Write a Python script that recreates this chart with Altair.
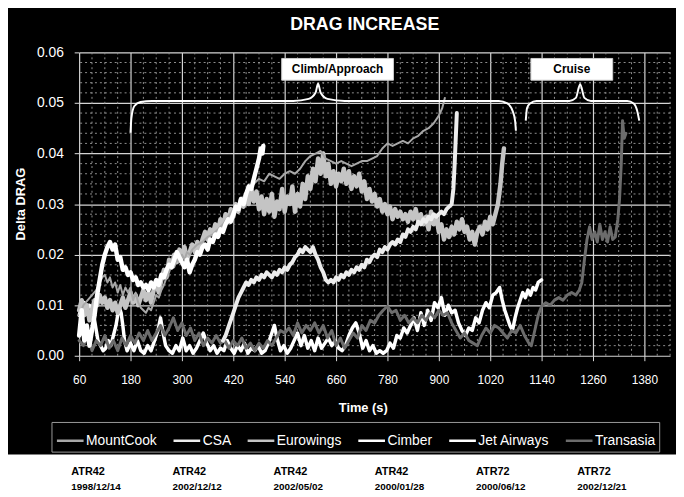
import altair as alt
import pandas as pd

# ---------------- data ----------------
series_names = ["MountCook", "CSA", "Eurowings", "Cimber", "Jet Airways", "Transasia"]
series_colors = ["#a8a8a8", "#ececec", "#c4c4c4", "#ffffff", "#ffffff", "#6c6c6c"]
series_widths = [2.0, 4.0, 4.5, 3.5, 4.5, 3.0]

# thin gray line (Climb up to ~0.05)
mountcook = [(60,.008),(70,.010),(80,.011),(90,.012),(100,.013),(108,.0145),(114,.0155),(120,.016),(126,.0145),
    (132,.0155),(138,.0135),(144,.0145),(150,.0125),(156,.014),(162,.012),(168,.0135),(174,.0125),(180,.0135),
    (186,.011),(192,.0125),(198,.0105),(204,.0095),(210,.009),(216,.0085),(222,.0095),(228,.009),(234,.0105),
    (240,.012),(246,.0115),(252,.013),(258,.014),(264,.0155),(270,.0165),(276,.018),(282,.0175),(288,.019),
    (294,.0185),(300,.020),(306,.019),(312,.0205),(318,.020),(324,.021),(336,.022),(348,.0225),(360,.0235),
    (372,.024),(384,.025),(396,.026),(408,.0275),(420,.029),(432,.030),(444,.0315),(456,.033),(468,.034),
    (480,.035),(492,.0345),(504,.036),(516,.0355),(528,.035),(540,.036),(552,.0365),(564,.036),(576,.037),
    (588,.0385),(600,.0395),(612,.040),(624,.0405),(636,.039),(648,.0385),(660,.038),(672,.0385),(684,.038),
    (696,.0375),(708,.038),(720,.0385),(732,.0385),(744,.039),(756,.0395),(768,.041),(780,.042),(792,.0415),
    (804,.042),(816,.0425),(828,.042),(840,.043),(852,.0435),(864,.0445),(876,.045),(888,.046),(900,.0475),
    (908,.049),(914,.051)]

# very light line rising from 400 s, spike at ~940 s
csa = [(396,.003),(402,.004),(408,.0055),(414,.007),(420,.0085),(426,.010),(432,.0115),(438,.0125),(444,.0135),
    (450,.0145),(456,.014),(462,.015),(468,.0145),(474,.0155),(480,.015),(486,.016),(492,.0155),(498,.0165),
    (504,.016),(510,.0155),(516,.0165),(522,.016),(528,.017),(534,.0165),(540,.0175),(546,.017),(552,.018),
    (558,.0185),(564,.0195),(570,.020),(576,.021),(582,.0205),(588,.0215),(594,.021),(600,.0205),(606,.0215),
    (612,.020),(618,.019),(624,.0175),(630,.0165),(636,.015),(642,.0145),(648,.015),(654,.0145),(660,.0155),
    (666,.015),(672,.016),(678,.0155),(684,.0165),(690,.016),(696,.017),(702,.0165),(708,.0175),(714,.017),
    (720,.018),(726,.0175),(732,.019),(738,.0185),(744,.0195),(750,.020),(756,.0195),(762,.021),(768,.0205),
    (774,.0215),(780,.021),(786,.022),(792,.0225),(798,.022),(804,.023),(810,.0225),(816,.024),(822,.0235),
    (828,.025),(834,.0245),(840,.0255),(846,.025),(852,.0265),(858,.026),(864,.027),(870,.0265),(876,.0275),
    (882,.027),(888,.028),(894,.0275),(900,.028),(906,.0285),(912,.028),(918,.029),(924,.0295),(930,.030),
    (934,.033),(937,.038),(940,.044),(942,.048)]

# light gray noisy band, spike at ~1050 s
eurowings = [(60,.009),(66,.011),(72,.008),(78,.010),(84,.007),(90,.009),(96,.011),(102,.010),(108,.012),
    (114,.0105),(120,.0115),(126,.0095),(132,.011),(138,.009),(144,.0105),(150,.0085),(156,.010),(162,.0115),
    (168,.0095),(174,.011),(180,.0125),(186,.0105),(192,.012),(198,.010),(204,.0115),(210,.013),(216,.011),
    (222,.0125),(228,.0105),(234,.013),(240,.0145),(246,.0125),(252,.015),(258,.017),(264,.0155),(270,.019),
    (276,.0175),(282,.020),(288,.0185),(294,.021),(300,.0195),(306,.0215),(312,.019),(318,.0205),(324,.022),
    (330,.0205),(336,.0225),(342,.021),(348,.023),(354,.0245),(360,.023),(366,.025),(372,.024),(378,.026),
    (384,.0245),(390,.027),(396,.0255),(402,.028),(408,.0265),(414,.029),(420,.0275),(426,.030),(432,.0285),
    (438,.031),(444,.0295),(450,.032),(456,.030),(462,.033),(468,.0305),(474,.0325),(480,.029),(486,.0315),
    (492,.028),(498,.031),(504,.0285),(510,.032),(516,.0275),(522,.0305),(528,.029),(534,.033),(540,.0285),
    (546,.0315),(552,.030),(558,.0335),(564,.0285),(570,.032),(576,.0295),(582,.034),(588,.031),(594,.0355),
    (600,.033),(606,.037),(612,.0345),(618,.039),(624,.036),(630,.040),(636,.0355),(642,.038),(648,.034),
    (654,.0365),(660,.0335),(666,.036),(672,.0345),(678,.037),(684,.034),(690,.0365),(696,.033),(702,.0355),
    (708,.0335),(714,.036),(720,.0325),(726,.0345),(732,.031),(738,.033),(744,.0305),(750,.032),(756,.0295),
    (762,.031),(768,.0285),(774,.030),(780,.028),(786,.0295),(792,.027),(798,.029),(804,.0275),(810,.0285),
    (816,.027),(822,.028),(828,.0265),(834,.0285),(840,.027),(846,.029),(852,.0265),(858,.028),(864,.026),
    (870,.0275),(876,.025),(882,.0285),(888,.026),(894,.0275),(900,.0245),(906,.026),(912,.023),(918,.025),
    (924,.0235),(930,.0255),(936,.024),(942,.0265),(948,.025),(954,.027),(960,.0245),(966,.0255),(972,.023),
    (978,.0245),(984,.022),(990,.0245),(996,.0255),(1002,.024),(1008,.0265),(1014,.025),(1020,.0275),
    (1026,.026),(1032,.028),(1038,.030),(1044,.034),(1048,.038),(1052,.041)]

# white line near the bottom, up to 1140 s
cimber = [(60,.008),(66,.010),(72,.0105),(78,.009),(84,.010),(90,.0095),(96,.007),(100,.005),(104,.003),
    (110,.002),(116,.001),(122,.0015),(128,.003),(134,.002),(140,.004),(146,.006),(150,.008),(154,.0095),
    (158,.0085),(162,.006),(166,.003),(172,.001),(180,.0025),(188,.001),(196,.003),(204,.001),(212,.0005),
    (220,.002),(228,.001),(236,.003),(244,.005),(250,.0075),(256,.0045),(262,.002),(270,.001),(278,.0005),
    (286,.002),(294,.001),(302,.0035),(310,.001),(318,.002),(326,.0005),(334,.0015),(342,.003),(350,.0045),
    (358,.0025),(366,.001),(374,.002),(382,.0005),(390,.0015),(398,.001),(406,.003),(414,.0015),(422,.0005),
    (430,.002),(438,.001),(446,.0025),(454,.0005),(462,.0015),(470,.001),(478,.002),(486,.0005),(494,.001),
    (502,.0025),(510,.0045),(516,.006),(522,.0035),(530,.001),(538,.002),(546,.0005),(554,.0015),(562,.003),
    (570,.0045),(578,.002),(586,.004),(594,.0015),(602,.003),(610,.001),(618,.0035),(626,.0015),(634,.0025),
    (642,.0035),(650,.002),(658,.003),(666,.0015),(674,.001),(682,.002),(690,.004),(698,.0055),(706,.0065),
    (714,.0045),(722,.0015),(730,.003),(738,.001),(746,.002),(754,.0005),(762,.001),(770,.0005),(778,.001),
    (786,.0025),(794,.0015),(802,.004),(810,.0035),(818,.0055),(826,.0045),(834,.006),(842,.0075),(850,.005),
    (858,.0085),(866,.006),(874,.009),(882,.007),(890,.0105),(898,.0095),(906,.0115),(914,.008),(922,.010),
    (930,.0085),(938,.009),(946,.0065),(954,.005),(962,.004),(970,.0055),(978,.005),(986,.0075),(994,.0065),
    (1002,.009),(1010,.0105),(1018,.0095),(1026,.012),(1034,.0125),(1042,.0135),(1048,.011),(1054,.009),
    (1060,.0075),(1066,.006),(1072,.005),(1078,.0075),(1084,.0095),(1090,.011),(1096,.0125),(1102,.0115),
    (1108,.013),(1114,.012),(1120,.0135),(1126,.013),(1132,.0145),(1140,.015)]

# thick white line ending at ~490 s
jet_airways = [(60,.004),(66,.009),(72,.003),(78,.006),(84,.002),(90,.005),(96,.008),(102,.012),(108,.015),
    (114,.018),(120,.020),(126,.0215),(132,.0225),(138,.021),(144,.022),(150,.019),(156,.0195),(162,.017),
    (168,.0175),(174,.016),(180,.0165),(186,.015),(192,.0155),(198,.014),(204,.0145),(210,.0135),(216,.014),
    (222,.013),(228,.0145),(234,.0135),(240,.015),(246,.014),(252,.016),(258,.0155),(264,.017),(270,.018),
    (276,.0175),(282,.019),(288,.0205),(294,.0195),(300,.0185),(306,.0175),(312,.019),(318,.0165),(324,.018),
    (330,.019),(336,.0205),(342,.020),(348,.0215),(354,.022),(360,.021),(366,.023),(372,.0225),(378,.024),
    (384,.0235),(390,.025),(396,.0245),(402,.026),(408,.027),(414,.0265),(420,.028),(426,.0295),(432,.029),
    (438,.031),(444,.030),(450,.032),(456,.0335),(462,.033),(468,.035),(474,.037),(480,.039),(484,.041),
    (488,.040),(490,.0415)]

# dark gray line, reaching the cruise phase
transasia = [(60,.003),(70,.002),(80,.004),(90,.001),(100,.003),(110,.002),(120,.004),(130,.0015),(140,.003),
    (150,.001),(160,.0035),(170,.002),(180,.004),(190,.0025),(200,.0045),(210,.003),(220,.005),(230,.003),
    (240,.0045),(250,.006),(260,.004),(270,.0055),(280,.0075),(290,.005),(300,.0065),(310,.004),(320,.0055),
    (330,.003),(340,.0045),(350,.002),(360,.0035),(370,.0025),(380,.004),(390,.0025),(400,.003),(410,.0015),
    (420,.003),(430,.002),(440,.0035),(450,.0015),(460,.0025),(470,.001),(480,.0025),(490,.0015),(500,.003),
    (510,.002),(520,.0035),(530,.005),(540,.0045),(550,.0055),(560,.004),(570,.0065),(580,.0045),(590,.006),
    (600,.005),(610,.0065),(620,.0045),(630,.006),(640,.0035),(650,.005),(660,.002),(670,.0035),(680,.0015),
    (690,.003),(700,.0045),(710,.0035),(720,.006),(730,.005),(740,.007),(750,.0065),(760,.008),(770,.009),
    (780,.0098),(790,.0085),(800,.009),(810,.007),(820,.008),(830,.0065),(840,.0075),(850,.0065),(860,.008),
    (870,.007),(880,.0085),(890,.0075),(900,.009),(910,.008),(920,.0085),(930,.0065),(940,.005),(950,.0035),
    (960,.0045),(970,.003),(980,.0025),(990,.002),(1000,.004),(1010,.0055),(1020,.0045),(1030,.006),
    (1040,.0055),(1050,.0045),(1060,.0035),(1070,.005),(1080,.0045),(1090,.006),(1100,.004),(1110,.0025),
    (1116,.002),(1124,.005),(1132,.008),(1140,.0098),(1150,.0105),(1160,.010),(1170,.011),(1180,.0115),
    (1190,.011),(1200,.012),(1210,.0125),(1220,.012),(1228,.013),(1234,.0145),(1240,.019),(1246,.023),
    (1252,.0255),(1258,.023),(1264,.0245),(1270,.0225),(1276,.026),(1282,.023),(1288,.0245),(1294,.0225),
    (1300,.0255),(1306,.023),(1312,.0235),(1318,.027),(1322,.031),(1326,.038),(1329,.0465),(1333,.043),
    (1337,.044)]

series_data = {"MountCook": mountcook, "CSA": csa, "Eurowings": eurowings, "Cimber": cimber,
               "Jet Airways": jet_airways, "Transasia": transasia}
draw_order = ["Cimber", "Transasia", "Eurowings", "CSA", "MountCook", "Jet Airways"]

x_ticks = [60, 180, 300, 420, 540, 660, 780, 900, 1020, 1140, 1260, 1380]
y_ticks = [0.0, 0.01, 0.02, 0.03, 0.04, 0.05, 0.06]

# phase annotations (braces + labels)
brace_climb = [(180,.0441),(182,.047),(189,.0494),(203,.0502),(230,.0504),(560,.0504),(596,.0508),
    (612,.052),(618,.0538),(624,.052),(640,.0508),(680,.0504),(1040,.0504),(1060,.0499),(1072,.0485),
    (1078,.0465),(1080,.0445)]
brace_cruise = [(1103,.0465),(1106,.049),(1113,.0499),(1128,.0504),(1205,.0504),(1220,.051),(1230,.0537),
    (1240,.051),(1255,.0504),(1340,.0504),(1355,.0499),(1363,.0485),(1368,.0465)]
phase_labels = ["Climb/Approach", "Cruise"]
phase_box_t = [(533, 794), (1115, 1306)]
phase_box_v = (0.0545, 0.0588)

aircraft_models = ["ATR42", "ATR42", "ATR42", "ATR42", "ATR72", "ATR72"]
aircraft_dates = ["1998/12/14", "2002/12/12", "2002/05/02", "2000/01/28", "2000/06/12", "2002/12/21"]

# ---------------- chart ----------------
FONT = "Liberation Sans"
W, H = 598, 307

xs = alt.Scale(domain=[60, 1440], nice=False, zero=False)
ys = alt.Scale(domain=[0, 0.06], nice=False, zero=True)

x_axis = alt.Axis(values=x_ticks, format="d", grid=True, gridColor="#d4d4d4", gridWidth=1.2, domain=False,
                  ticks=True, tickColor="#dddddd", tickSize=5, labelColor="white", labelFont=FONT,
                  labelFontSize=12, labelPadding=14, labelFlush=False,
                  title="Time (s)", titleColor="white", titleFont=FONT, titleFontSize=13,
                  titleFontWeight="bold", titleX=287, titleY=52, titleBaseline="middle", titleAlign="center")
y_axis = alt.Axis(values=y_ticks, format=".2f", grid=True, gridColor="#d4d4d4", gridWidth=1.2,
                  domain=False, ticks=True, tickColor="#dddddd", tickSize=5, labelColor="white",
                  labelFont=FONT, labelFontSize=14, labelPadding=11,
                  title="Delta DRAG", titleColor="white", titleFont=FONT, titleFontSize=13,
                  titleFontWeight="bold", titleAngle=-90, titleX=-59, titleY=153,
                  titleBaseline="middle", titleAlign="center")

def X(f):
    return alt.X(f, type="quantitative", scale=xs, axis=x_axis)

def Y(f):
    return alt.Y(f, type="quantitative", scale=ys, axis=y_axis)

# minor dotted grid
minor_x = pd.DataFrame({"t": [t for t in range(60, 1441, 30) if (t - 60) % 120 != 0]})
minor_y = pd.DataFrame({"v": [round(i * 0.002, 3) for i in range(1, 30) if i % 5 != 0]})
grid_x = alt.Chart(minor_x).mark_rule(color="#8f8f8f", strokeWidth=1, strokeDash=[2, 3]).encode(x=X("t"))
grid_y = alt.Chart(minor_y).mark_rule(color="#8f8f8f", strokeWidth=1, strokeDash=[2, 3]).encode(y=Y("v"))

legend = alt.Legend(orient="none", legendX=-28, legendY=374, direction="horizontal", title=None,
                    symbolType="stroke", symbolSize=729, symbolStrokeWidth=2.5, labelColor="white",
                    labelFont=FONT, labelFontSize=14, labelOffset=1, columnPadding=11, padding=4,
                    strokeColor="#9a9a9a", fillColor="black", symbolLimit=0)
color = alt.Color("series:N", scale=alt.Scale(domain=series_names, range=series_colors), legend=legend)

line_layers = []
for name in draw_order:
    pts = series_data[name]
    df = pd.DataFrame({"t": [p[0] for p in pts], "v": [p[1] for p in pts], "series": name})
    w = series_widths[series_names.index(name)]
    line_layers.append(
        alt.Chart(df).mark_line(strokeWidth=w, strokeJoin="round", strokeCap="round")
        .encode(x=X("t"), y=Y("v"), color=color)
    )

brace_df = pd.DataFrame(
    [{"t": t, "v": v, "b": "climb"} for t, v in brace_climb] +
    [{"t": t, "v": v, "b": "cruise"} for t, v in brace_cruise])
braces = alt.Chart(brace_df).mark_line(color="white", strokeWidth=2, interpolate="monotone").encode(
    x=X("t"), y=Y("v"), detail="b:N")

box_df = pd.DataFrame({"label": phase_labels,
                       "t1": [b[0] for b in phase_box_t], "t2": [b[1] for b in phase_box_t],
                       "v1": [phase_box_v[0]] * 2, "v2": [phase_box_v[1]] * 2,
                       "tc": [(b[0] + b[1]) / 2 for b in phase_box_t]})
boxes = alt.Chart(box_df).mark_rect(fill="white", stroke="#cccccc", strokeWidth=1).encode(
    x=X("t1"), x2="t2", y=Y("v1"), y2="v2")
box_text = alt.Chart(box_df).mark_text(color="black", font=FONT, fontSize=12, fontWeight="bold",
                                       align="center", baseline="middle").encode(
    x=X("tc"), y=alt.Y("vm:Q", scale=ys, axis=y_axis), text="label:N").transform_calculate(
    vm="(datum.v1 + datum.v2) / 2")

# white strip at the bottom (outside the plot area)
white_strip = alt.Chart(pd.DataFrame({"k": [0]})).mark_rect(color="white").encode(
    x=alt.value(-80), x2=alt.value(620), y=alt.value(407), y2=alt.value(470))

main = alt.layer(grid_x, grid_y, *line_layers, braces, boxes, box_text, white_strip)

atr_df = pd.DataFrame({"i": list(range(6)), "model": aircraft_models, "date": aircraft_dates})
atr_x = alt.X("i:O", scale=alt.Scale(type="point", range=[-8, 504], padding=0), axis=None)
atr_model = alt.Chart(atr_df).mark_text(color="black", font=FONT, fontSize=11, fontWeight="bold",
                                        align="left", baseline="middle").encode(
    x=atr_x, y=alt.value(425), text="model:N")
atr_date = alt.Chart(atr_df).mark_text(color="black", font=FONT, fontSize=10, fontWeight="bold",
                                       align="left", baseline="middle").encode(
    x=atr_x, y=alt.value(440), text="date:N")

chart = alt.layer(main, atr_model, atr_date).resolve_scale(x="independent").properties(
    width=W, height=H,
    title=alt.Title("DRAG INCREASE", color="white", font=FONT, fontSize=18, fontWeight="bold",
                    anchor="middle", dx=-10, offset=12),
    background="black",
    autosize=alt.AutoSizeParams(type="none"),
    padding={"left": 72, "top": 42, "right": 6, "bottom": 140},
).configure_view(stroke=None)

chart.save("out.html", embed_options={"renderer": "svg", "actions": False})
